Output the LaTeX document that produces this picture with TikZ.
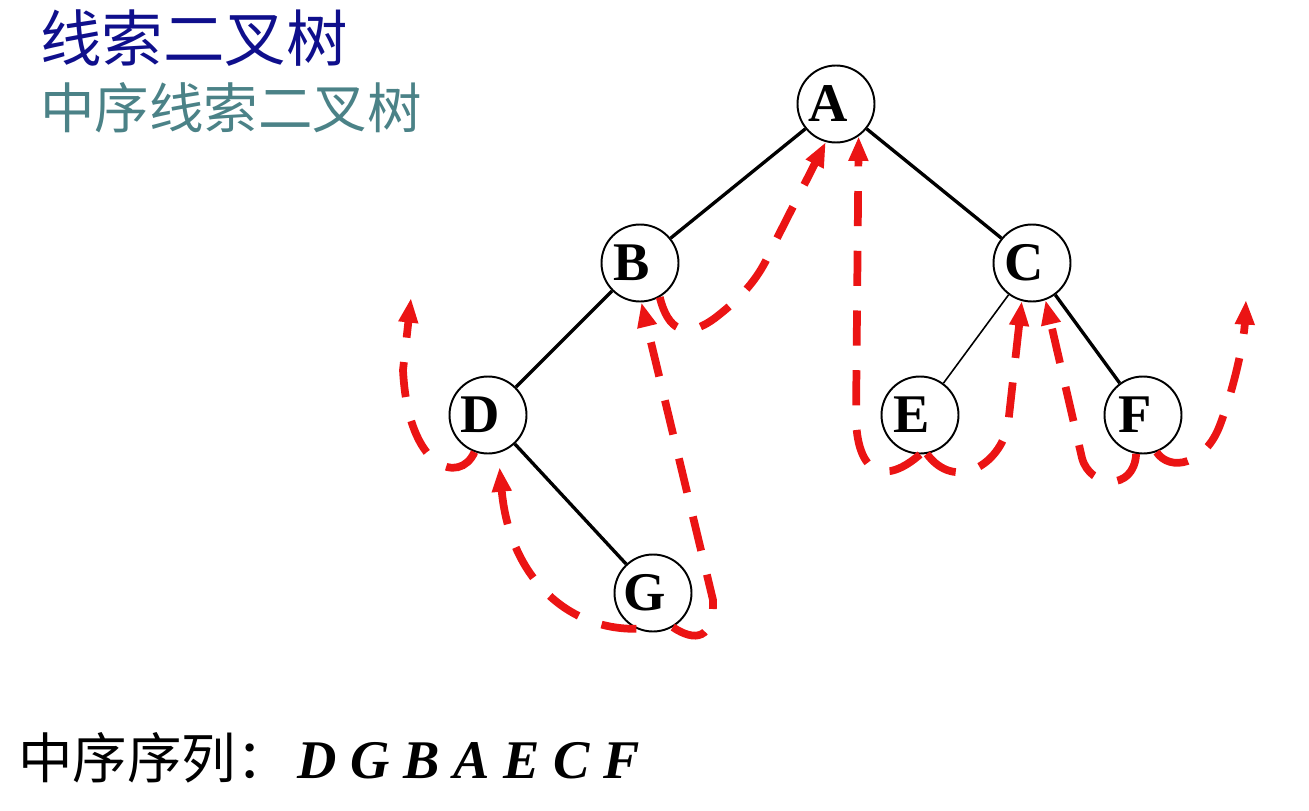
\documentclass[tikz,border=0pt]{standalone}
\usepackage{fontspec}
\setmainfont{Liberation Serif}
\newfontfamily\cjk{Noto Sans CJK SC}
\usetikzlibrary{arrows.meta,positioning,calc}
\definecolor{TitleBlue}{RGB}{15, 15, 140}
\definecolor{TitleTeal}{RGB}{75, 130, 135}
\definecolor{ThreadRed}{RGB}{235, 20, 20}

\begin{document}
\begin{tikzpicture}[x=0.02cm, y=-0.02cm,
  vertex/.style={draw, circle, line width=1.1pt, minimum size=1.54cm, inner sep=0pt,
    font=\fontsize{31}{31}\selectfont\bfseries, execute at end node={\hspace{9pt}}},
  edge/.style={line width=1.9pt},
  thread/.style={ThreadRed, line width=4.4pt, dash pattern=on 20pt off 14pt,
    -{Triangle[length=14pt, width=10.5pt]}}]
  \useasboundingbox (0,0) rectangle (1309,811);

  % Titles
  \node[anchor=base west, inner sep=0pt, TitleBlue, font=\cjk\fontsize{35}{35}\selectfont] (title) at (40,62) {线索二叉树};
  \node[anchor=base west, inner sep=0pt, TitleTeal, font=\cjk\fontsize{31}{31}\selectfont] (subtitle) at (40,129) {中序线索二叉树};

  % Tree
  \node[vertex] (A) at (836,104) {A};
  \node[vertex] (B) at (640,263) {B};
  \node[vertex] (C) at (1032,263) {C};
  \node[vertex] (D) at (488,415) {D};
  \node[vertex] (E) at (920,415) {E};
  \node[vertex] (F) at (1143,415) {F};
  \node[vertex] (G) at (653,593) {G};

  \draw[edge] (A) -- (B);
  \draw[edge] (A) -- (C);
  \draw[edge] (B) -- (D);
  \draw[edge] (D) -- (G);
  \draw[edge, line width=0.9pt] (C) -- (E);
  \draw[edge] (C) -- (F);

  % Threads
  \coordinate (dnull) at (411,298);
  \coordinate (fnull) at (1246,300);
  \draw[thread] (D.-110) .. controls (460,485) and (408,470) .. (403,370) -- (dnull);
  \draw[thread, shorten >=8pt] (G.-115) .. controls (570,630) and (510,580) .. (D.-75);
  \draw[thread] (G.-60) .. controls (695,642) and (714,640) .. (713,600) -- (B.-88);
  \draw[thread] (B.-60) .. controls (668,330) and (685,340) .. (715,318)
    .. controls (745,295) and (760,275) .. (770,252) -- (A.-105);
  \draw[thread] (E.-90) .. controls (885,485) and (858,475) .. (856,420) -- (A.-55);
  \draw[thread] (E.-80) .. controls (955,492) and (1000,465) .. (1008,425) -- (C.-105);
  \draw[thread] (F.-100) .. controls (1134,492) and (1090,488) .. (1082,458) -- (C.-70);
  \draw[thread] (F.-70) .. controls (1170,472) and (1205,465) .. (1220,425)
    .. controls (1235,385) and (1244,340) .. (fnull);

  % Inorder sequence
  \node[anchor=base west, inner sep=0pt, font=\fontsize{31}{31}\selectfont] (inorder) at (18,778)
    {{\cjk 中序序列：}\hspace{4pt}\textbf{\textit{D G B A E C F}}};
\end{tikzpicture}
\end{document}
